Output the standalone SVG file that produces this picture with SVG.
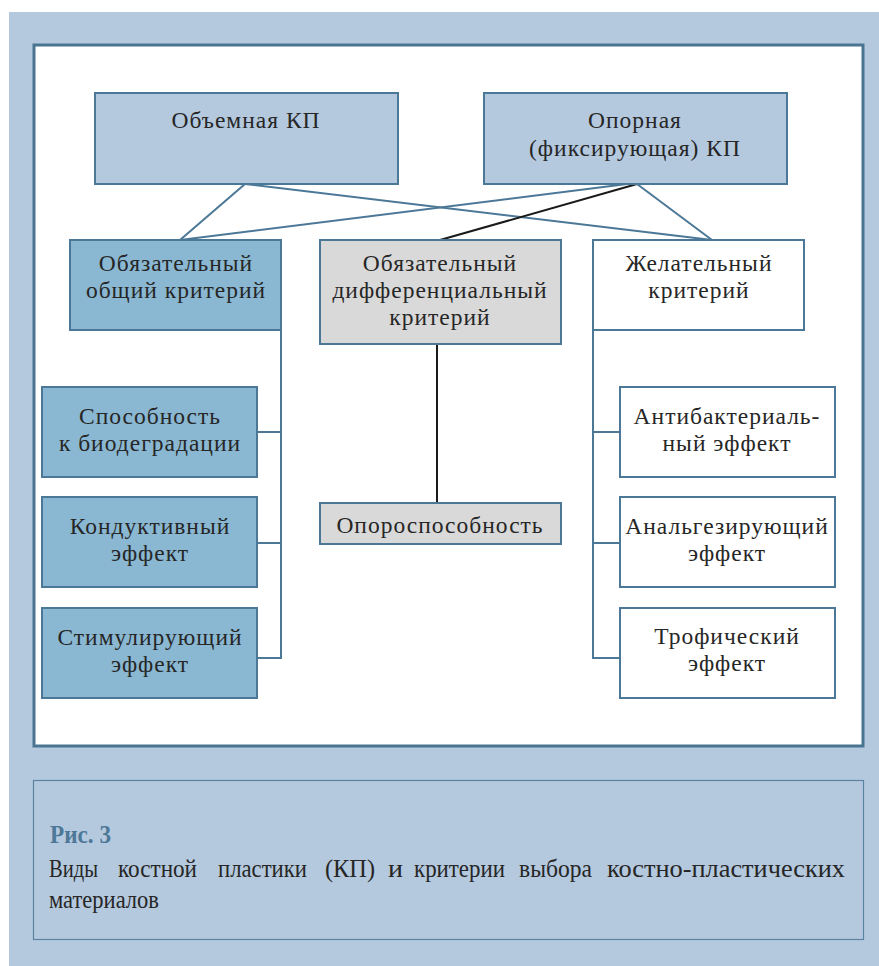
<svg xmlns="http://www.w3.org/2000/svg" width="879" height="966" viewBox="0 0 879 966">
<style>
.box{stroke:#4b7896;stroke-width:2}
.lt{fill:#b4c9de}
.md{fill:#8ab8d2}
.gr{fill:#d9d9d9}
.wh{fill:#ffffff}
.t{font-family:"Liberation Serif","DejaVu Serif",serif;font-size:23.5px;fill:#262626;text-anchor:middle;letter-spacing:1px}
.c{stroke:#4b7896;stroke-width:2;fill:none}
.k{stroke:#1a1a1a;stroke-width:2;fill:none}
.cap{font-family:"Liberation Serif","DejaVu Serif",serif;font-size:26px;fill:#262626}
</style>
<rect x="9" y="12" width="870" height="954" fill="#b4c9de"/>
<rect x="34" y="45" width="829" height="701" fill="#ffffff" stroke="#4a7591" stroke-width="3"/>
<rect x="33.5" y="780.5" width="830" height="159" fill="#b4c9de" stroke="#5a83a2" stroke-width="1.2"/>

<g id="connectors">
<line class="c" x1="245" y1="184" x2="180" y2="240"/>
<line class="c" x1="245" y1="184" x2="712" y2="240"/>
<line class="c" x1="627" y1="184" x2="180" y2="240"/>
<line class="c" x1="637" y1="184" x2="712" y2="240"/>
<line class="k" x1="637" y1="184" x2="440" y2="240"/>
<line class="k" x1="437" y1="344" x2="437" y2="503"/>
<polyline class="c" points="281,330 281,658 257,658"/>
<line class="c" x1="257" y1="432" x2="281" y2="432"/>
<line class="c" x1="257" y1="543" x2="281" y2="543"/>
<polyline class="c" points="593,330 593,658 620,658"/>
<line class="c" x1="593" y1="432" x2="620" y2="432"/>
<line class="c" x1="593" y1="543" x2="620" y2="543"/>
</g>

<g id="n_volume">
<rect class="box lt" x="95" y="93" width="303" height="91"/>
<text class="t" x="246" y="128">Объемная КП</text>
</g>
<g id="n_support">
<rect class="box lt" x="484" y="93" width="303" height="91"/>
<text class="t" x="635" y="128">Опорная</text>
<text class="t" x="635" y="156">(фиксирующая) КП</text>
</g>
<g id="n_general">
<rect class="box md" x="70" y="240" width="211" height="90"/>
<text class="t" x="176" y="271">Обязательный</text>
<text class="t" x="176" y="298">общий критерий</text>
</g>
<g id="n_diff">
<rect class="box gr" x="320" y="240" width="241" height="104"/>
<text class="t" x="440" y="271">Обязательный</text>
<text class="t" x="440" y="298">дифференциальный</text>
<text class="t" x="440" y="325">критерий</text>
</g>
<g id="n_desired">
<rect class="box wh" x="593" y="240" width="211" height="90"/>
<text class="t" x="699" y="271">Желательный</text>
<text class="t" x="699" y="298">критерий</text>
</g>
<g id="n_biodeg">
<rect class="box md" x="42" y="387" width="215" height="90"/>
<text class="t" x="150" y="424">Способность</text>
<text class="t" x="150" y="451">к биодеградации</text>
</g>
<g id="n_conduct">
<rect class="box md" x="42" y="497" width="215" height="90"/>
<text class="t" x="150" y="534">Кондуктивный</text>
<text class="t" x="150" y="561">эффект</text>
</g>
<g id="n_stim">
<rect class="box md" x="42" y="608" width="215" height="90"/>
<text class="t" x="150" y="645">Стимулирующий</text>
<text class="t" x="150" y="672">эффект</text>
</g>
<g id="n_opora">
<rect class="box gr" x="320" y="503" width="241" height="41"/>
<text class="t" x="440" y="533">Опороспособность</text>
</g>
<g id="n_antibact">
<rect class="box wh" x="620" y="387" width="215" height="90"/>
<text class="t" x="727" y="424">Антибактериаль-</text>
<text class="t" x="727" y="451">ный эффект</text>
</g>
<g id="n_analg">
<rect class="box wh" x="620" y="497" width="215" height="90"/>
<text class="t" x="727" y="534">Анальгезирующий</text>
<text class="t" x="727" y="561">эффект</text>
</g>
<g id="n_troph">
<rect class="box wh" x="620" y="608" width="215" height="90"/>
<text class="t" x="727" y="644">Трофический</text>
<text class="t" x="727" y="671">эффект</text>
</g>

<g id="caption">
<text x="50" y="843" font-family="'Liberation Serif','DejaVu Serif',serif" font-size="26" font-weight="bold" fill="#4d7897" textLength="61" lengthAdjust="spacingAndGlyphs">Рис. 3</text>
<text class="cap" x="49" y="877" textLength="49" lengthAdjust="spacingAndGlyphs">Виды</text>
<text class="cap" x="118" y="877" textLength="79" lengthAdjust="spacingAndGlyphs">костной</text>
<text class="cap" x="218" y="877" textLength="89" lengthAdjust="spacingAndGlyphs">пластики</text>
<text class="cap" x="325" y="877" textLength="50" lengthAdjust="spacingAndGlyphs">(КП)</text>
<text class="cap" x="388" y="877" textLength="15" lengthAdjust="spacingAndGlyphs">и</text>
<text class="cap" x="414" y="877" textLength="91" lengthAdjust="spacingAndGlyphs">критерии</text>
<text class="cap" x="519" y="877" textLength="73" lengthAdjust="spacingAndGlyphs">выбора</text>
<text class="cap" x="607" y="877" textLength="238" lengthAdjust="spacingAndGlyphs">костно-пластических</text>
<text class="cap" x="49" y="908" textLength="110" lengthAdjust="spacingAndGlyphs">материалов</text>
</g>
</svg>
